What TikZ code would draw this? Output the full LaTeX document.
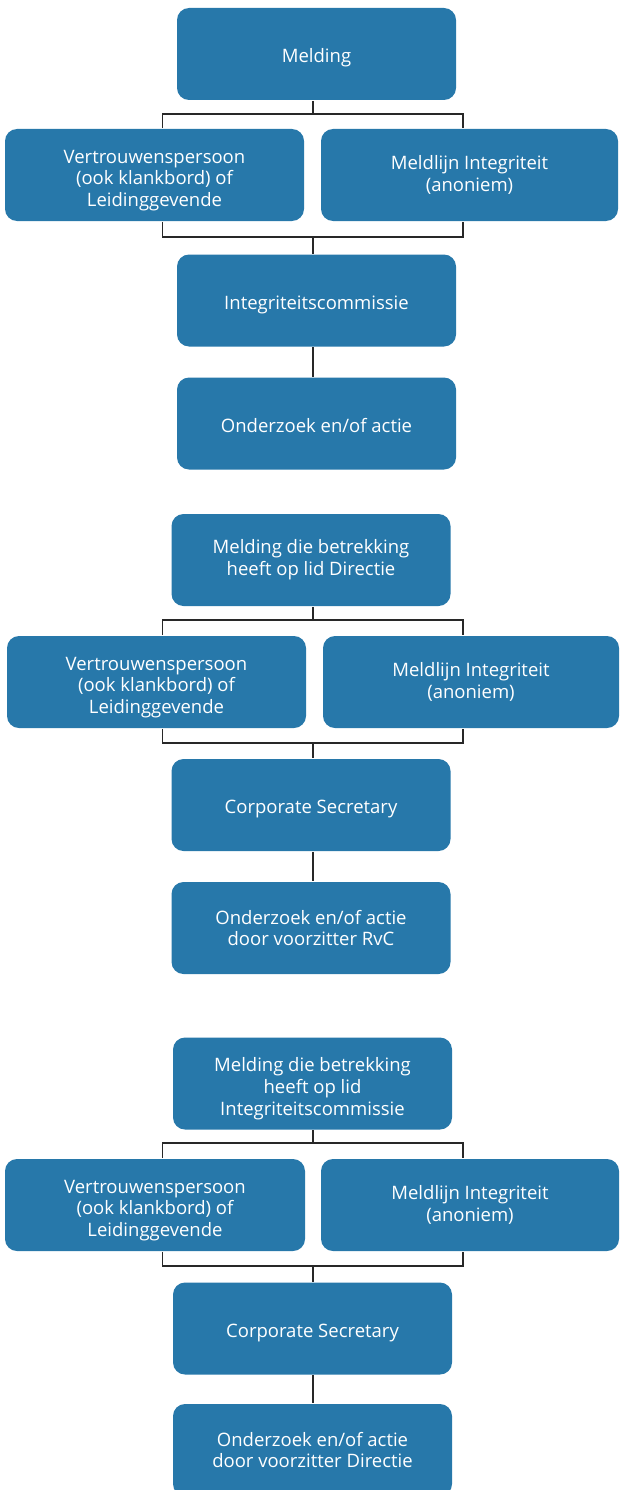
\documentclass[tikz,border=0pt]{standalone}
\usepackage{fontspec}
\setmainfont{Open Sans}
\definecolor{meldblauw}{RGB}{39,120,170}
\definecolor{lijngrijs}{RGB}{40,40,40}

\begin{document}
\begin{tikzpicture}[x=1pt, y=-1pt, line width=1.6pt, draw=lijngrijs]
\tikzstyle{every node}=[rectangle, rounded corners=12pt, fill=meldblauw, text=white, align=center, inner sep=0pt, minimum height=92pt, font=\fontsize{18.5}{21.7}\selectfont, execute at begin node={\rule{0pt}{21.5pt}}]
\tikzstyle{smal}=[minimum width=279pt]
\tikzstyle{breed}=[minimum width=299pt]
\tikzstyle{drie}=[execute at begin node={\rule{0pt}{67.5pt}}]

\useasboundingbox (0,0) rectangle (619,1490);
\clip (0,0) rectangle (619,1490);

% melding algemeen
\node[smal] (m1) at (316.5,54) {Melding};
\node[breed, drie] (v1) at (154.5,175) {Vertrouwenspersoon\\(ook klankbord) of\\Leidinggevende};
\node[breed, minimum width=297pt] (r1) at (469.5,175) {Meldlijn Integriteit\\(anoniem)};
\node[smal] (c1) at (316.5,300.5) {Integriteitscommissie};
\node[smal, execute at end node={\rule[-4.5pt]{0pt}{0pt}}] (o1) at (316.5,423.5) {Onderzoek en/of actie};

\coordinate (a1) at (313,114);
\coordinate (b1) at (313,237);
\draw (a1 |- m1.south) -- (a1);
\draw (v1.north -| 162.5,0) |- (a1) -| (r1.north -| 463,0);
\draw (v1.south -| 162.5,0) |- (b1) -| (r1.south -| 463,0);
\draw (b1) -- (b1 |- c1.north);
\draw (b1 |- c1.south) -- (b1 |- o1.north);

% melding over lid Directie
\node[smal] (m2) at (311,560) {Melding die betrekking\\heeft op lid Directie};
\node[breed, drie] (v2) at (156.5,682) {Vertrouwenspersoon\\(ook klankbord) of\\Leidinggevende};
\node[breed, minimum width=296pt] (r2) at (471,682) {Meldlijn Integriteit\\(anoniem)};
\node[smal] (c2) at (311,805) {Corporate Secretary};
\node[smal] (o2) at (311,928) {Onderzoek en/of actie\\door voorzitter RvC};

\coordinate (a2) at (313,620);
\coordinate (b2) at (313,743);
\draw (a2 |- m2.south) -- (a2);
\draw (v2.north -| 162.5,0) |- (a2) -| (r2.north -| 463,0);
\draw (v2.south -| 162.5,0) |- (b2) -| (r2.south -| 463,0);
\draw (b2) -- (b2 |- c2.north);
\draw (b2 |- c2.south) -- (b2 |- o2.north);

% melding over lid Integriteitscommissie
\node[smal, drie] (m3) at (312.5,1083.5) {Melding die betrekking\\heeft op lid\\Integriteitscommissie};
\node[breed, drie, minimum width=300pt] (v3) at (155,1205) {Vertrouwenspersoon\\(ook klankbord) of\\Leidinggevende};
\node[breed, minimum width=298pt] (r3) at (470,1205) {Meldlijn Integriteit\\(anoniem)};
\node[smal] (c3) at (312.5,1328.5) {Corporate Secretary};
\node[smal] (o3) at (312.5,1450) {Onderzoek en/of actie\\door voorzitter Directie};

\coordinate (a3) at (313,1143);
\coordinate (b3) at (313,1266);
\draw (a3 |- m3.south) -- (a3);
\draw (v3.north -| 162.5,0) |- (a3) -| (r3.north -| 463,0);
\draw (v3.south -| 162.5,0) |- (b3) -| (r3.south -| 463,0);
\draw (b3) -- (b3 |- c3.north);
\draw (b3 |- c3.south) -- (b3 |- o3.north);
\end{tikzpicture}
\end{document}
